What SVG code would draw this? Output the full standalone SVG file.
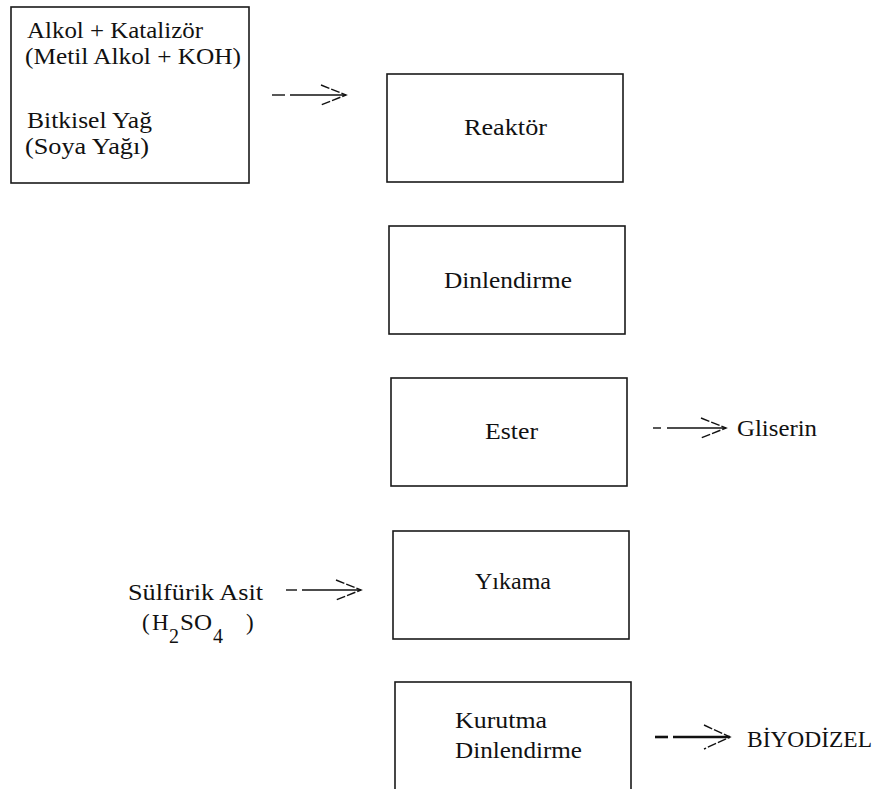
<svg xmlns="http://www.w3.org/2000/svg" width="877" height="789" viewBox="0 0 877 789">
<style>
.box{fill:#fff;stroke:#1a1a1a;stroke-width:1.6}
.t{font-family:'Liberation Serif','Times New Roman',serif;font-size:23px;fill:#111}
.sub{font-family:'Liberation Serif','Times New Roman',serif;font-size:20px;fill:#111}
.ln{stroke:#111;stroke-width:1.4;fill:none}
.arm{stroke:#111;stroke-width:1.4;fill:none;stroke-dasharray:9 2}
.lnb{stroke:#111;stroke-width:2.6;fill:none}
</style>
<rect width="877" height="789" fill="#fff"/>
<g id="inputs">
<rect class="box" x="11" y="7" width="238" height="176"/>
<text class="t" x="27" y="38" textLength="176" lengthAdjust="spacingAndGlyphs">Alkol + Katalizör</text>
<text class="t" x="25" y="64" textLength="216" lengthAdjust="spacingAndGlyphs">(Metil Alkol + KOH)</text>
<text class="t" x="27" y="128" textLength="125" lengthAdjust="spacingAndGlyphs">Bitkisel Yağ</text>
<text class="t" x="25" y="154" textLength="124" lengthAdjust="spacingAndGlyphs">(Soya Yağı)</text>
</g>
<g id="reaktor">
<rect class="box" x="387" y="74" width="236" height="108"/>
<text class="t" x="464" y="135" textLength="83" lengthAdjust="spacingAndGlyphs">Reaktör</text>
</g>
<g id="dinlendirme">
<rect class="box" x="389" y="226" width="236" height="108"/>
<text class="t" x="444" y="288" textLength="128" lengthAdjust="spacingAndGlyphs">Dinlendirme</text>
</g>
<g id="ester">
<rect class="box" x="391" y="378" width="236" height="108"/>
<text class="t" x="485" y="439" textLength="53" lengthAdjust="spacingAndGlyphs">Ester</text>
</g>
<g id="gliserin">
<text class="t" x="737" y="436" textLength="80" lengthAdjust="spacingAndGlyphs">Gliserin</text>
</g>
<g id="yikama">
<rect class="box" x="393" y="531" width="236" height="108"/>
<text class="t" x="475" y="589" textLength="76" lengthAdjust="spacingAndGlyphs">Yıkama</text>
</g>
<g id="sulfurik">
<text class="t" x="128" y="600" textLength="135" lengthAdjust="spacingAndGlyphs">Sülfürik Asit</text>
<text class="t" x="142" y="630">(</text>
<text class="t" x="152" y="630">H</text>
<text class="sub" x="169" y="643">2</text>
<text class="t" x="180" y="630" textLength="32" lengthAdjust="spacingAndGlyphs">SO</text>
<text class="sub" x="213" y="643">4</text>
<text class="t" x="246" y="630">)</text>
</g>
<g id="kurutma">
<rect class="box" x="395" y="682" width="236" height="120"/>
<text class="t" x="455" y="728" textLength="92" lengthAdjust="spacingAndGlyphs">Kurutma</text>
<text class="t" x="455" y="758" textLength="127" lengthAdjust="spacingAndGlyphs">Dinlendirme</text>
</g>
<g id="biyodizel">
<text class="t" x="747" y="747" textLength="125" lengthAdjust="spacingAndGlyphs">BİYODİZEL</text>
</g>
<g id="connectors">
<line class="ln" x1="272" y1="95" x2="285" y2="95"/>
<line class="ln" x1="290" y1="95" x2="346" y2="95"/>
<polyline class="arm" points="321,85 346,95 321,105"/>
<line class="ln" x1="653" y1="428" x2="661" y2="428"/>
<line class="ln" x1="667" y1="428" x2="726" y2="428"/>
<polyline class="arm" points="701,418 726,428 701,438"/>
<line class="ln" x1="286" y1="590" x2="297" y2="590"/>
<line class="ln" x1="302" y1="590" x2="361" y2="590"/>
<polyline class="arm" points="336,580 361,590 336,600"/>
<line class="lnb" x1="655" y1="737" x2="668" y2="737"/>
<line class="lnb" x1="673" y1="737" x2="730" y2="737"/>
<polyline class="arm" points="704,725 730,737 704,749"/>
</g>
</svg>
